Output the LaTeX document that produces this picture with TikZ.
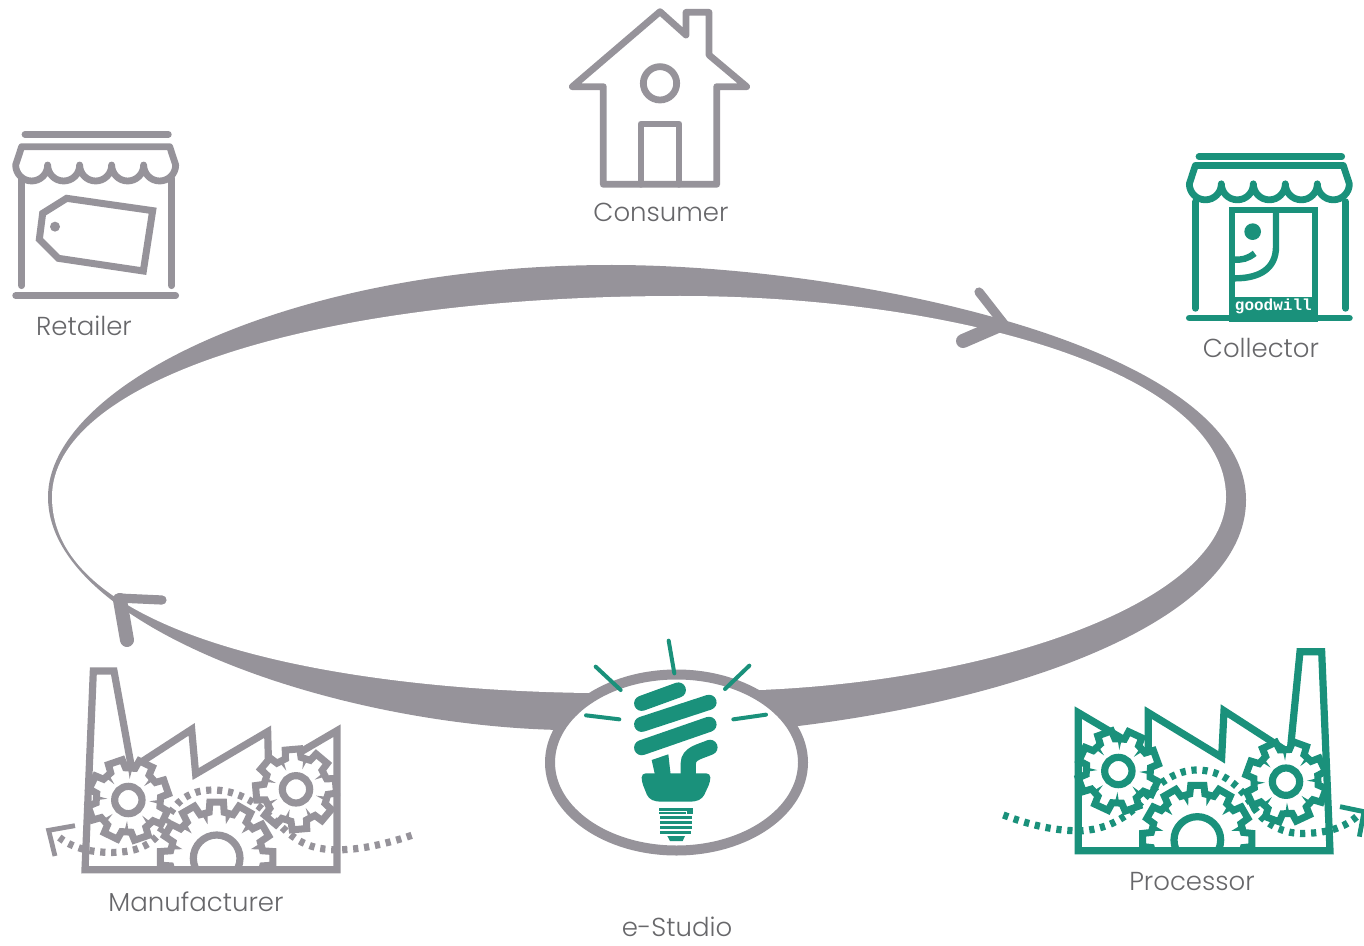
\documentclass[tikz,border=0pt]{standalone}
\usepackage{fontspec}
\setmainfont{Poppins Light}
\newfontfamily\gwfont[BoldFont={Liberation Mono Bold}]{Liberation Mono}
\definecolor{gr}{HTML}{96939A}
\definecolor{tl}{HTML}{1A917B}
\definecolor{lbl}{HTML}{67676A}
% cx cy root tip n rot ring colour
\newcommand{\geardraw}[8]{%
  \pgfmathsetmacro{\gw}{360/#5}%
  \draw[#8,line width=3.5pt,fill=white,line join=miter]
    ({#1+#3*cos(#6+\gw-.31*\gw)},{#2+#3*sin(#6+\gw-.31*\gw)})
    \foreach \i in {1,...,#5}{
      -- ({#1+#3*cos(#6+\i*\gw-.31*\gw)},{#2+#3*sin(#6+\i*\gw-.31*\gw)})
      -- ({#1+#4*cos(#6+\i*\gw-.23*\gw)},{#2+#4*sin(#6+\i*\gw-.23*\gw)})
      -- ({#1+#4*cos(#6+\i*\gw+.23*\gw)},{#2+#4*sin(#6+\i*\gw+.23*\gw)})
      -- ({#1+#3*cos(#6+\i*\gw+.31*\gw)},{#2+#3*sin(#6+\i*\gw+.31*\gw)})
    } -- cycle;
  \foreach \i in {1,...,#5}{
    \fill[#8] ({#1+#3*cos(#6+\i*\gw+.5*\gw-4)},{#2+#3*sin(#6+\i*\gw+.5*\gw-4)})
      -- ({#1+(#3-34)*cos(#6+\i*\gw+.5*\gw)},{#2+(#3-34)*sin(#6+\i*\gw+.5*\gw)})
      -- ({#1+#3*cos(#6+\i*\gw+.5*\gw+4)},{#2+#3*sin(#6+\i*\gw+.5*\gw+4)}) -- cycle;
  }
  \draw[#8,line width=3.6pt] (#1,#2) circle[radius=#7];
}
\newcommand{\awning}[2]{% x-left, colour: cusps every 96 from x-left
  \draw[#2,line width=3.4pt,line join=round,line cap=round]
   (#1,135) -- ({#1+18},80) -- ({#1+462},80) -- ({#1+480},135)
   arc[start angle=0,end angle=180,radius=48]
   arc[start angle=0,end angle=180,radius=48]
   arc[start angle=0,end angle=180,radius=48]
   arc[start angle=0,end angle=180,radius=48]
   arc[start angle=0,end angle=180,radius=48];
}
\tikzset{
  lbltext/.style={text=lbl,font=\fontsize{13}{15}\selectfont,inner sep=0pt},
  roundline/.style={line width=3.4pt,line cap=round,line join=round},
  facline/.style={line width=3.6pt,line join=miter},
  dotline/.style={line width=3.6pt,dash pattern=on 2.6pt off 2.9pt},
  ray/.style={tl,line width=2pt,line cap=round},
  coil/.style={tl,line width=7.6pt,line cap=round},
}
\begin{document}
\begin{tikzpicture}[x=0.5pt,y=-0.5pt]
\useasboundingbox (0,0) rectangle (1364,946);
% ring
\fill[gr] (48,497) .. controls (48,385) and (290,265) .. (612,265)
  .. controls (850,265) and (1246,345) .. (1246,500)
  .. controls (1246,620) and (1020,700) .. (790,727)
  -- (560,730) .. controls (330,725) and (48,625) .. (48,497) -- cycle;
\fill[white] (52,497) .. controls (52,385) and (300,296) .. (680,296)
  .. controls (950,296) and (1226,370) .. (1226,497)
  .. controls (1226,600) and (1000,680) .. (760,690)
  -- (590,693) .. controls (330,690) and (52,635) .. (52,497) -- cycle;
\draw[gr,line width=4.6pt,line cap=round] (979,292) -- (1004,324);
\draw[gr,line width=7pt,line cap=round] (963,341) -- (1000,325);
\draw[gr,line width=4.6pt,line cap=round] (162,600) -- (118,598);
\draw[gr,line width=7pt,line cap=round] (127,640) -- (120,600);
% e-Studio
\draw[gr,fill=white,line width=5pt] (676.5,762.5) ellipse[x radius=126.5,y radius=88];
\begin{scope}[shift={(530,630)},scale=1/3]
  \draw[ray] (197,110) -- (272,180);
  \draw[ray] (416,32) -- (433,130);
  \draw[ray] (658,107) -- (585,177);
  \draw[ray] (168,256) -- (268,268);
  \draw[ray] (708,254) -- (610,268);
  \draw[coil] (335,220) -- (445,180);
  \draw[coil] (335,283) -- (537,217);
  \draw[coil] (335,353) -- (537,283);
  \draw[coil] (475,440) -- (475,400) .. controls (475,370) and (510,365) .. (540,352);
  \fill[tl] (365,390) -- (415,373) -- (422,435) -- (375,435) -- cycle;
  \fill[tl,rounded corners=2pt] (335,430) -- (541,430) -- (541,455) -- (518,505) -- (495,515) -- (378,515) -- (355,505) -- (335,455) -- cycle;
  \fill[tl] (388,533) -- (490,533) -- (490,552) -- (388,552) -- cycle;
  \draw[white,line width=.5pt] (388,544) -- (468,544) -- (468,552);
  \foreach \yy/\xa/\xb in {562/391/486,577/391/486,593/391/485,607/391/484}{
    \draw[tl,line width=1.5pt] (\xa,\yy) -- (\xb,\yy);
  }
  \fill[tl] (412,618) -- (465,618) -- (458,633) -- (420,633) -- cycle;
\end{scope}
% house
\begin{scope}[shift={(560,0)},scale=1/3]
  \draw[gr,roundline] (37,260) -- (300,35) -- (378,105) -- (378,37) -- (447,37) -- (447,165) -- (560,260) -- (470,260) -- (470,553) -- (130,553) -- (130,260) -- cycle;
  \draw[gr,line width=3.4pt] (300,250) circle[radius=50];
  \draw[gr,roundline] (243,553) -- (243,372) -- (357,372) -- (357,553);
\end{scope}
% retailer
\begin{scope}[shift={(0,120)},scale=1/3]
  \draw[gr,roundline] (75,43) -- (505,43);
  \draw[gr,roundline] (47,527) -- (527,527);
  \awning{47}{gr}
  \draw[gr,roundline] (65,175) -- (65,497);
  \draw[gr,roundline] (515,175) -- (515,497);
  \draw[gr,line width=3.5pt,line join=miter] (200,235) -- (458,272) -- (430,453) -- (175,415) -- (118,358) -- (128,280) -- cycle;
  \fill[gr] (165,320) circle[radius=15];
\end{scope}
% collector
\begin{scope}[shift={(1170,140)},scale=1/3]
  \draw[tl,roundline] (87,50) -- (515,50);
  \draw[tl,roundline] (58,534) -- (538,534);
  \begin{scope}[yshift=1.75pt]
  \awning{58}{tl}
  \end{scope}
  \draw[tl,roundline] (76,185) -- (76,505);
  \draw[tl,roundline] (527,185) -- (527,505);
  \fill[white] (186,210) rectangle (435,535);
  \draw[tl,line width=3.2pt] (186,210) rectangle (435,535);
  \fill[tl] (177,470) rectangle (444,545);
  \fill[tl] (248,275) circle[radius=25];
  \draw[tl,line width=3.2pt] (318,215) -- (318,320) .. controls (318,385) and (270,415) .. (195,415);
  \draw[tl,line width=3.2pt] (190,358) .. controls (215,362) and (235,355) .. (254,340);
  \node[inner sep=0pt,text=white] (gw) at (310,498) {\gwfont\bfseries\fontsize{8}{9}\selectfont goodwill};
\end{scope}
% manufacturer
\begin{scope}[shift={(0,640)},scale=1/3]
  \draw[gr,facline] (255,689) -- (280,93) -- (342,93) -- (395,385) -- (575,268) -- (587,402) -- (803,275) -- (806,392) -- (1011,272) -- (1011,689) -- cycle;
  \begin{scope}
    \clip (0,0) rectangle (1290,679);
    \geardraw{650}{655}{140}{170}{12}{-90}{70}{gr}
  \end{scope}
  \geardraw{385}{480}{97}{122}{8}{26}{41}{gr}
  \geardraw{888}{448}{97}{122}{8}{-5}{41}{gr}
  \draw[gr,facline] (255,689) -- (1011,689);
  \draw[gr,dotline] (1235,586) .. controls (1150,615) and (1040,640) .. (960,625)
    .. controls (880,610) and (850,560) .. (800,520) .. controls (760,480) and (700,450) .. (640,450)
    .. controls (560,450) and (520,490) .. (490,560) .. controls (460,620) and (400,640) .. (320,637)
    .. controls (260,635) and (210,620) .. (175,590);
  \draw[gr,line width=2.4pt,line join=miter] (225,557) -- (146,571) -- (165,648);
\end{scope}
% processor
\begin{scope}[shift={(990,640)},scale=1/3]
  \draw[tl,facline] (265,632) -- (265,218) -- (475,342) -- (475,218) -- (695,352) -- (702,212) -- (900,340) -- (930,35) -- (995,35) -- (1020,632) -- cycle;
  \begin{scope}
    \clip (0,0) rectangle (1122,622);
    \geardraw{622}{600}{140}{165}{12}{-90}{70}{tl}
  \end{scope}
  \geardraw{385}{393}{97}{122}{8}{-20}{41}{tl}
  \geardraw{888}{425}{97}{122}{8}{20}{41}{tl}
  \draw[tl,facline] (265,632) -- (1020,632);
  \draw[tl,dotline] (40,525) .. controls (120,555) and (200,575) .. (280,572)
    .. controls (360,565) and (410,530) .. (450,490) .. controls (500,430) and (560,390) .. (620,390)
    .. controls (700,390) and (750,440) .. (790,500) .. controls (820,550) and (880,585) .. (950,580)
    .. controls (1010,578) and (1060,565) .. (1100,530);
  \draw[tl,line width=2.4pt,line join=miter] (1050,500) -- (1122,515) -- (1108,590);
\end{scope}
% labels
\node[lbltext] (consumer) at (661,212) {Consumer};
\node[lbltext] (retailer) at (84,326) {Retailer};
\node[lbltext] (collector) at (1261,348) {Collector};
\node[lbltext] (manufacturer) at (196,902) {Manufacturer};
\node[lbltext] (processor) at (1192,882) {Processor};
\node[lbltext] (estudio) at (677,927) {e-Studio};
\end{tikzpicture}
\end{document}
